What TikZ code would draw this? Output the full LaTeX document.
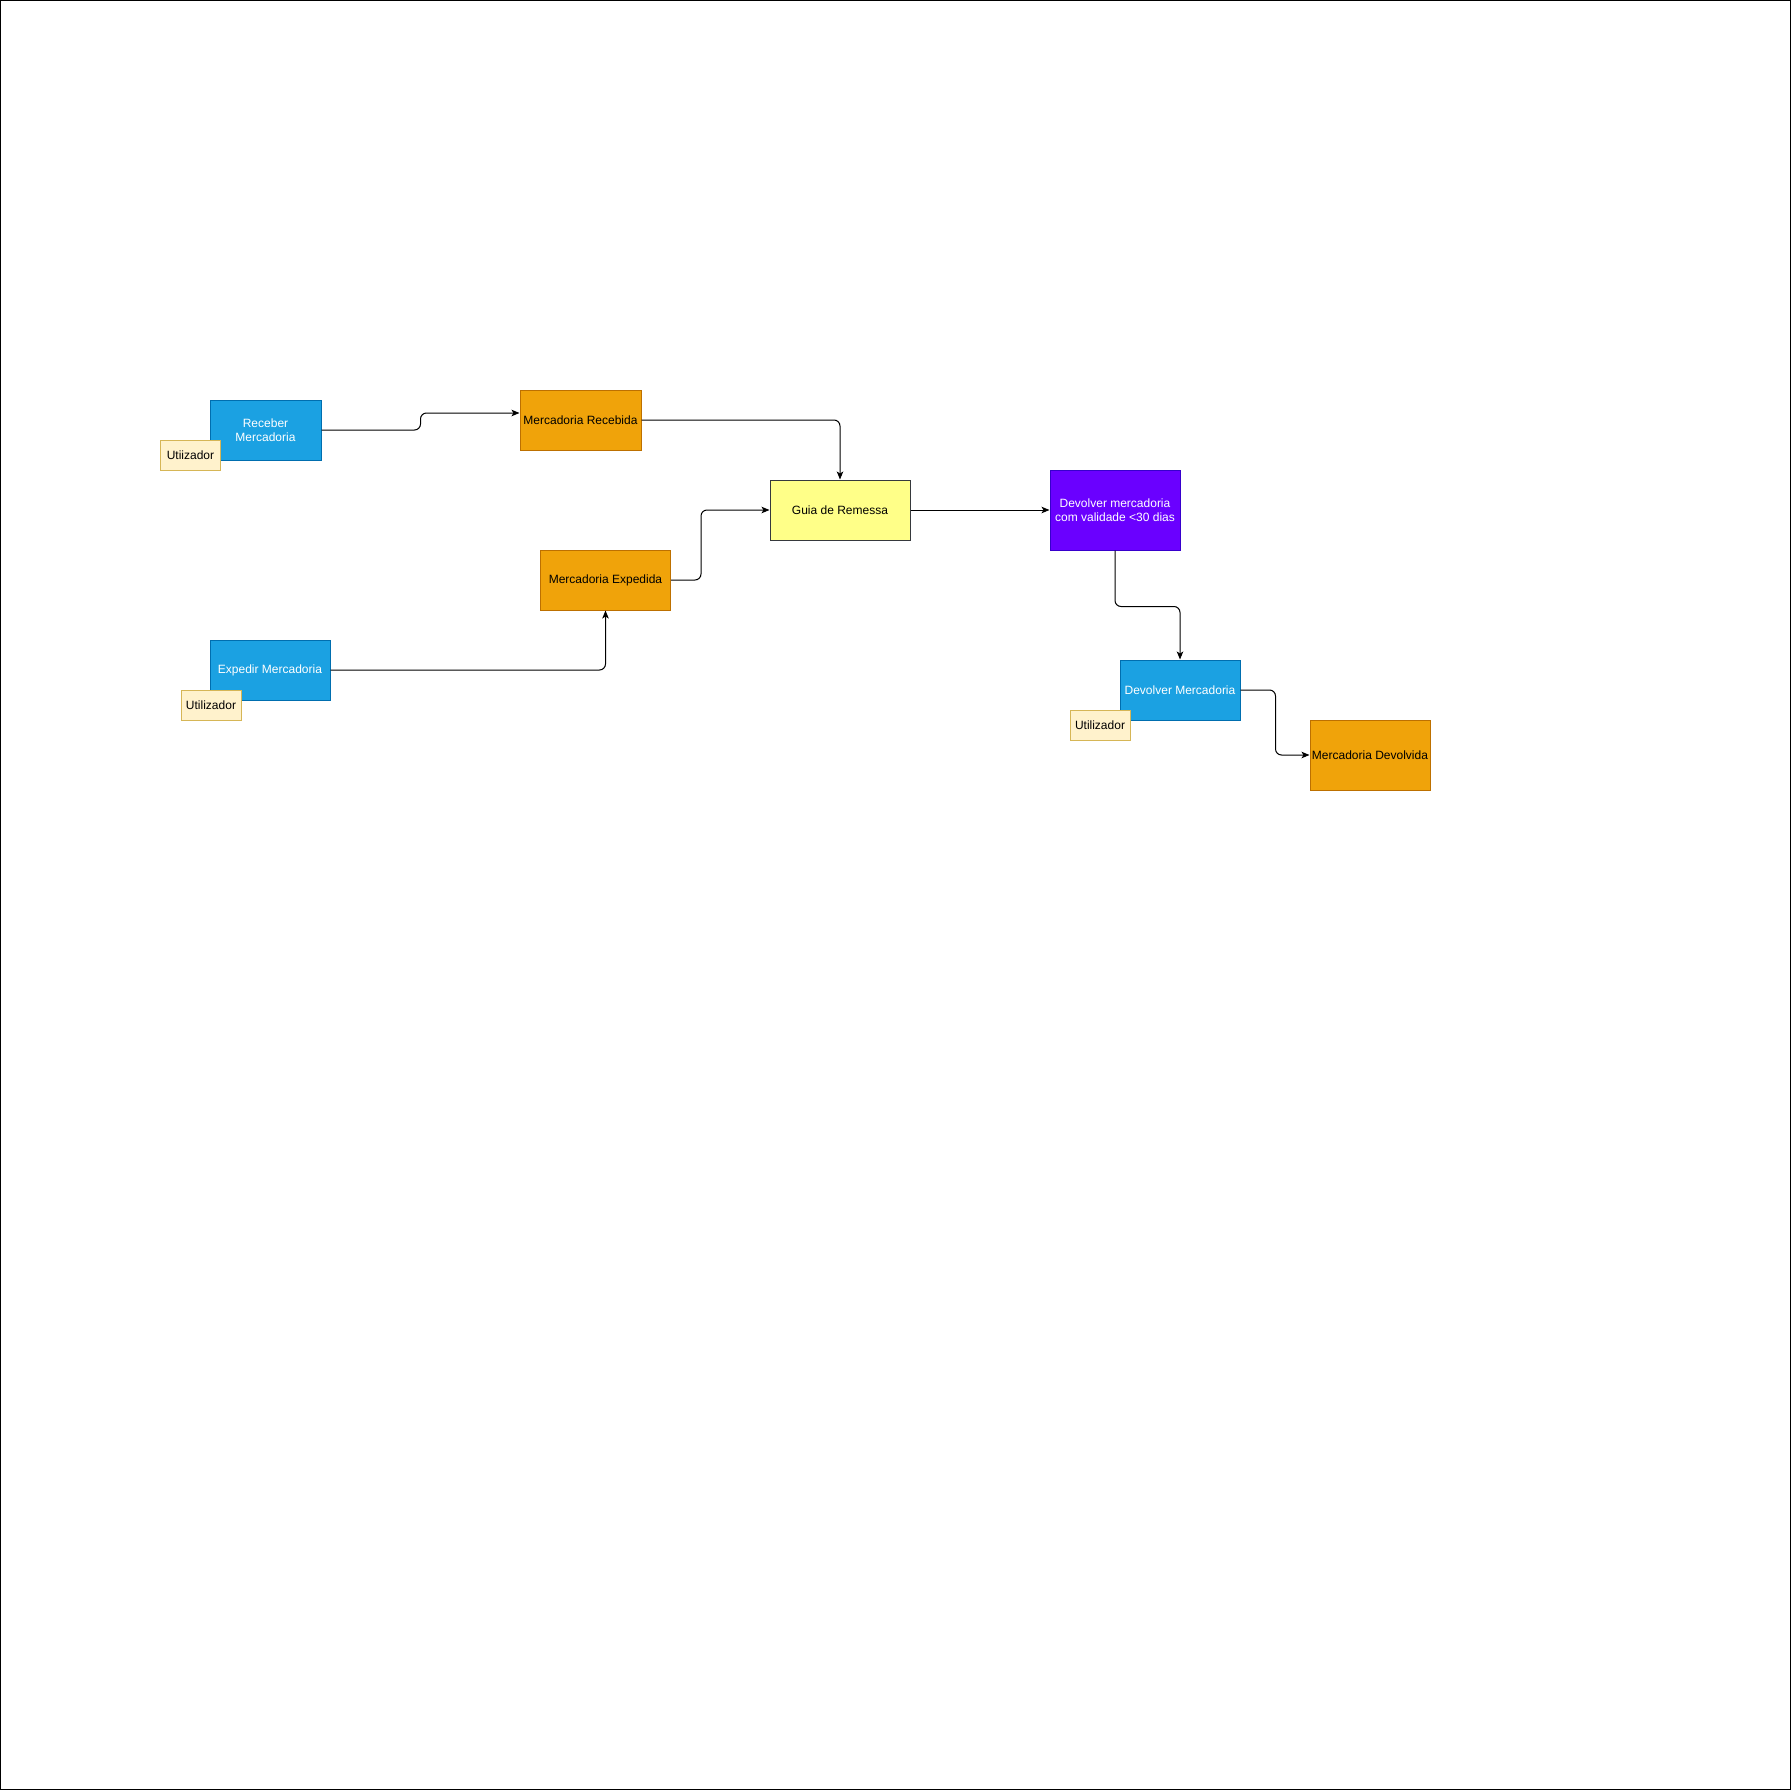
\documentclass[tikz,border=0pt]{standalone}
\usepackage{fontspec}
\setmainfont{Liberation Sans}
\usetikzlibrary{arrows.meta}

\definecolor{taskfill}{HTML}{1BA1E2}
\definecolor{taskline}{HTML}{006EAF}
\definecolor{statefill}{HTML}{F0A30A}
\definecolor{stateline}{HTML}{BD7000}
\definecolor{docfill}{HTML}{FFFF88}
\definecolor{docline}{HTML}{36393D}
\definecolor{rulefill}{HTML}{6A00FF}
\definecolor{ruleline}{HTML}{3700CC}
\definecolor{userfill}{HTML}{FFF2CC}
\definecolor{userline}{HTML}{D6B656}

\begin{document}
\begin{tikzpicture}[x=1pt,y=-1pt,
	box/.style={draw, rectangle, inner sep=0pt, line width=1pt, align=center, font=\fontsize{12}{14.5}\selectfont},
	task/.style={box, fill=taskfill, draw=taskline, text=white, minimum width=120pt, minimum height=60pt},
	state/.style={box, fill=statefill, draw=stateline, minimum width=120pt, minimum height=60pt},
	doc/.style={box, fill=docfill, draw=docline, minimum width=140pt, minimum height=60pt},
	rule/.style={box, fill=rulefill, draw=ruleline, text=white, minimum width=130pt, minimum height=80pt},
	user/.style={box, fill=userfill, draw=userline, minimum width=60pt, minimum height=30pt},
	flow/.style={-{Stealth[length=8pt,width=6.5pt,inset=2pt]}, line width=1pt, rounded corners=6pt}]

	\useasboundingbox (0,0) rectangle (1792,1791);
	\draw[line width=1pt] (0.5,0.5) rectangle (1790,1789.5);

	% tarefas
	\node[task, minimum width=111pt] (rec) at (265.5,430) {Receber\\Mercadoria};
	\node[user] (u1) at (190.5,455) {Utiizador};
	\node[task] (exp) at (270,670) {Expedir Mercadoria};
	\node[user] (u2) at (211,705) {Utilizador};
	\node[task] (devm) at (1180,690) {Devolver Mercadoria};
	\node[user] (u3) at (1100,725) {Utilizador};

	% estados
	\node[state, minimum width=121pt] (mrec) at (580.5,420) {Mercadoria Recebida};
	\node[state, minimum width=130pt] (mexp) at (605.5,580) {Mercadoria Expedida};
	\node[state, minimum height=70pt] (mdev) at (1370,755) {Mercadoria Devolvida};

	\node[doc] (guia) at (840,510) {Guia de Remessa};
	\node[rule] (dev) at (1115,510) {Devolver mercadoria\\com validade <30 dias};

	\draw[flow] (rec.east) -- ++(99,0) |- ([yshift=7pt]mrec.west);
	\draw[flow] (mrec.east) -| (guia.north);
	\draw[flow] (exp.east) -| (mexp.south);
	\draw[flow] (mexp.east) -- ++(30,0) |- (guia.west);
	\draw[flow] (guia.east) -- (dev.west);
	\draw[flow] (dev.south) -- ++(0,56) -| (devm.north);
	\draw[flow] (devm.east) -- ++(35,0) |- (mdev.west);

\end{tikzpicture}
\end{document}
